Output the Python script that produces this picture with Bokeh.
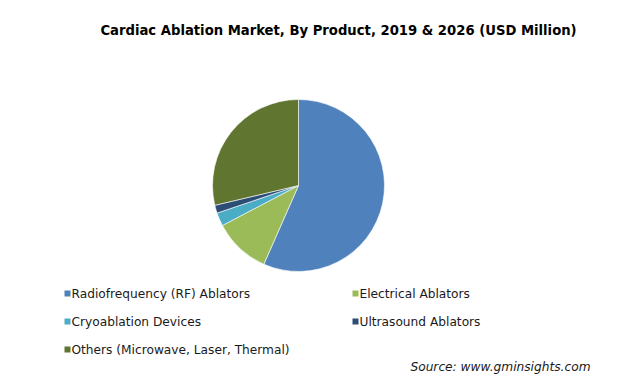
import numpy as np
from bokeh.plotting import figure
from bokeh.models import Range1d, ColumnDataSource
from bokeh.core.properties import value
from bokeh.embed import file_html
from bokeh.resources import INLINE

categories = ["Radiofrequency (RF) Ablators", "Electrical Ablators", "Cryoablation Devices",
              "Ultrasound Ablators", "Others (Microwave, Laser, Thermal)"]
shares = [56.6, 10.7, 2.5, 1.5, 28.7]
colors = ["#4F81BD", "#9BBB59", "#4BACC6", "#2C4D75", "#607530"]

title = "Cardiac Ablation Market, By Product, 2019 & 2026 (USD Million)"
source_note = "Source: www.gminsights.com"

W, H = 624, 381
p = figure(width=W, height=H, output_backend="svg", toolbar_location=None,
           x_range=Range1d(0, W), y_range=Range1d(H, 0), min_border=0)
p.axis.visible = False
p.grid.visible = False
p.outline_line_color = None
p.background_fill_color = "white"
p.border_fill_color = "white"

vals = np.array(shares, dtype=float)
frac = vals / vals.sum()
cum = np.concatenate([[0], np.cumsum(frac)])
start = np.pi / 2 - cum[:-1] * 2 * np.pi
end = np.pi / 2 - cum[1:] * 2 * np.pi
src = ColumnDataSource(dict(start=start, end=end, color=colors, cat=categories))
p.wedge(x=298, y=185, radius=86, radius_units="screen", start_angle="start", end_angle="end",
        direction="clock", fill_color="color", line_color="white", line_width=0.6, source=src)

p.text(x=[338], y=[30], text=[title], text_font=value("DejaVu Sans"), text_font_size="13.2px",
       text_font_style="bold", text_align="center", text_baseline="middle", text_color="#000000")

# legend (two columns, three rows)
lx = [67, 355, 67, 355, 67]
ly = [293, 293, 321, 321, 349]
p.rect(x=lx, y=ly, width=6, height=6, width_units="screen", height_units="screen",
       fill_color=colors, line_color=None)
p.text(x=[v + 4 for v in lx], y=ly, text=categories, text_font=value("DejaVu Sans"),
       text_font_size="12.2px", text_align="left", text_baseline="middle", text_color="#1a1a1a")

p.text(x=[590], y=[366], text=[source_note], text_font=value("DejaVu Sans"), text_font_size="12.2px",
       text_font_style="italic", text_align="right", text_baseline="middle", text_color="#1a1a1a")

open("out.html", "w").write(file_html(p, INLINE))
